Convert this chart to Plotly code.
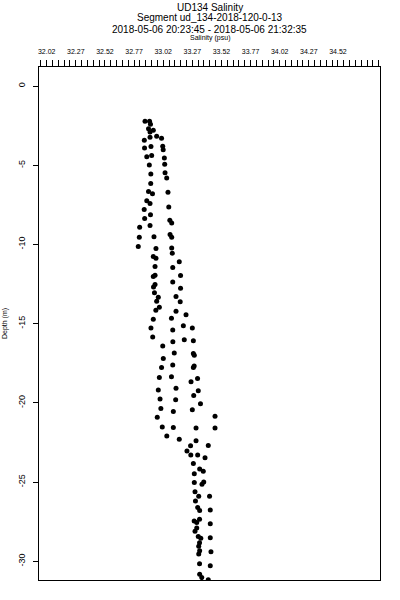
import plotly.graph_objects as go

salinity = [
    32.864, 32.903, 32.911, 32.894, 32.935, 32.907, 32.907, 32.964, 33.006, 32.858,
    32.860, 32.915, 33.016, 33.020, 32.879, 32.921, 33.030, 32.901, 33.033, 32.914,
    33.036, 33.050, 32.913, 32.894, 32.928, 33.061, 32.879, 32.907, 33.068, 32.857,
    32.911, 32.861, 33.077, 33.093, 32.818, 32.907, 33.079, 33.093, 32.815, 32.941,
    32.806, 32.958, 33.093, 33.098, 32.935, 32.958, 33.158, 32.950, 33.102, 32.935,
    32.950, 33.169, 33.102, 32.950, 32.937, 33.169, 32.945, 32.978, 33.130, 32.964,
    33.166, 32.987, 32.957, 33.130, 33.216, 32.935, 33.091, 33.193, 33.270, 32.915,
    33.102, 32.930, 33.201, 33.279, 33.103, 33.016, 33.115, 33.279, 33.287, 33.021,
    33.102, 33.286, 33.279, 33.006, 32.987, 33.091, 33.315, 33.259, 32.978, 33.130,
    33.321, 33.282, 32.993, 33.127, 33.340, 33.000, 33.107, 33.270, 32.969, 33.465,
    33.012, 33.107, 33.302, 33.465, 33.051, 33.158, 33.302, 33.407, 33.255, 33.224,
    33.257, 33.316, 33.379, 33.279, 33.333, 33.364, 33.287, 33.287, 33.353, 33.368,
    33.293, 33.325, 33.418, 33.297, 33.316, 33.333, 33.424, 33.286, 33.308, 33.332,
    33.424, 33.308, 33.293, 33.321, 33.343, 33.424, 33.332, 33.325, 33.333, 33.325,
    33.430, 33.332, 33.424, 33.333, 33.351, 33.407,
]
depth = [
    -2.22, -2.22, -2.41, -2.69, -2.79, -2.91, -3.23, -3.17, -3.29, -3.42,
    -3.92, -3.82, -3.80, -4.03, -4.46, -4.38, -4.54, -4.99, -4.94, -5.56,
    -5.47, -5.81, -6.15, -6.66, -6.80, -6.71, -7.25, -7.42, -7.63, -7.80,
    -8.12, -8.37, -8.48, -8.65, -8.92, -8.81, -9.38, -9.54, -9.54, -9.51,
    -10.13, -10.25, -10.23, -10.55, -10.76, -10.87, -11.10, -11.39, -11.46, -12.03,
    -11.94, -11.96, -12.37, -12.53, -12.69, -12.77, -13.05, -13.34, -13.29, -13.59,
    -13.61, -13.97, -14.16, -14.22, -14.44, -14.72, -14.66, -15.13, -15.27, -15.27,
    -15.40, -15.84, -16.01, -16.08, -16.14, -16.41, -16.85, -16.89, -16.99, -17.20,
    -17.61, -17.68, -17.77, -17.77, -18.40, -18.35, -18.46, -18.66, -19.18, -19.07,
    -19.24, -19.54, -19.76, -19.81, -20.05, -20.36, -20.55, -20.43, -20.90, -20.84,
    -21.53, -21.56, -21.59, -21.59, -22.09, -22.30, -22.39, -22.69, -22.71, -23.04,
    -23.29, -23.29, -23.46, -23.83, -24.17, -24.32, -24.48, -25.03, -25.13, -25.00,
    -25.61, -25.90, -25.90, -26.19, -26.61, -26.79, -26.76, -27.46, -27.55, -27.34,
    -27.63, -27.90, -28.11, -28.44, -28.54, -28.51, -28.83, -29.05, -29.34, -29.54,
    -29.40, -30.16, -30.28, -30.81, -31.03, -31.16,
]

x_tick_vals = [32.02, 32.27, 32.52, 32.77, 33.02, 33.27, 33.52, 33.77, 34.02, 34.27, 34.52]
x_tick_text = ["32.02", "32.27", "32.52", "32.77", "33.02", "33.27", "33.52", "33.77", "34.02", "34.27", "34.52"]
y_tick_vals = [0, -5, -10, -15, -20, -25, -30]
y_tick_text = ["0", "-5", "-10", "-15", "-20", "-25", "-30"]

title_lines = ["UD134 Salinity", "Segment ud_134-2018-120-0-13",
               "2018-05-06 20:23:45 - 2018-05-06 21:32:35"]

FONT = "Liberation Sans, Arial, sans-serif"

M_L, M_R, M_T, M_B = 39, 20, 67, 20
plot_h = 600 - M_T - M_B

fig = go.Figure()
fig.add_trace(go.Scatter(
    x=salinity, y=depth, mode="markers",
    marker=dict(color="black", size=5, symbol="circle", line=dict(width=0)),
    showlegend=False, hoverinfo="skip",
))

fig.update_layout(
    template="none",
    width=400, height=600,
    margin=dict(l=M_L, r=M_R, t=M_T, b=M_B, autoexpand=False),
    paper_bgcolor="white", plot_bgcolor="white",
    font=dict(family=FONT, color="black"),
    hovermode=False,
    xaxis=dict(
        side="top", range=[31.954, 34.881], automargin=False,
        tickmode="array", tickvals=x_tick_vals, ticktext=x_tick_text,
        tickfont=dict(size=7, family=FONT, color="black"), ticks="outside", ticklen=6,
        tickcolor="black", tickwidth=1, ticklabelstandoff=3,
        minor=dict(ticks="outside", ticklen=6, dtick=0.05, tick0=32.02,
                   tickcolor="black", tickwidth=1, showgrid=False),
        showline=True, linecolor="black", linewidth=1, mirror=True,
        showgrid=False, zeroline=False,
    ),
    yaxis=dict(
        range=[-31.18, 1.2], automargin=False,
        tickmode="array", tickvals=y_tick_vals, ticktext=y_tick_text,
        tickangle=-90, tickfont=dict(size=9, family=FONT, color="black"),
        ticks="outside", ticklen=5, tickcolor="black", tickwidth=1,
        ticklabelstandoff=4,
        showline=True, linecolor="black", linewidth=1, mirror=True,
        showgrid=False, zeroline=False,
        title=dict(text="Depth (m)", font=dict(size=7, family=FONT, color="black"), standoff=8),
    ),
)

for txt, py in zip(title_lines, [7, 18, 29]):
    fig.add_annotation(
        text=txt, xref="paper", yref="paper", x=0.5,
        y=1 + (M_T - py) / plot_h, yanchor="middle", xanchor="center",
        showarrow=False, font=dict(size=10, family=FONT, color="black"),
    )
fig.add_annotation(
    text="Salinity (psu)", xref="paper", yref="paper", x=0.5,
    y=1 + (M_T - 38) / plot_h, yanchor="middle", xanchor="center",
    showarrow=False, font=dict(size=7, family=FONT, color="black"),
)

fig.write_html(
    "out.html",
    config={"displayModeBar": False, "staticPlot": True},
    post_script="document.body.style.margin='0';document.body.style.overflow='hidden';",
)
